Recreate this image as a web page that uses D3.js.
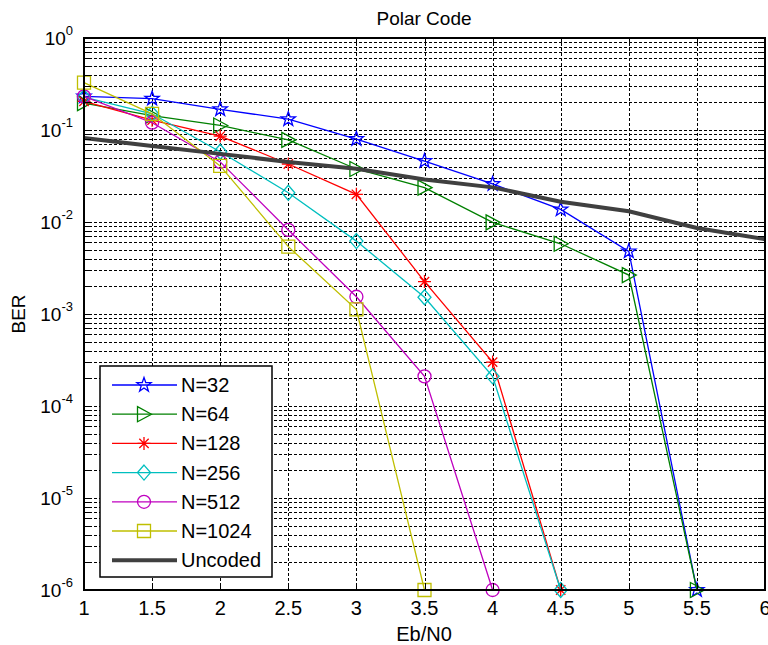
<!DOCTYPE html>
<html>
<head>
<meta charset="utf-8">
<script src="https://cdn.jsdelivr.net/npm/d3@7"></script>
<style>
  body { margin: 0; background: #fff; }
  svg { font-family: "Liberation Sans", Arial, sans-serif; }
</style>
</head>
<body>
<svg id="chart" width="768" height="645"></svg>
<script>
// values
const ebn0 = [1, 1.5, 2, 2.5, 3, 3.5, 4, 4.5, 5, 5.5];
const ber32   = [0.232, 0.219, 0.168, 0.131, 0.0798, 0.046, 0.0259, 0.0137, 0.0048, 1e-6];
const ber64   = [0.196, 0.143, 0.112, 0.078, 0.0377, 0.0236, 0.0099, 0.0058, 0.00265, 1e-6];
const ber128  = [0.205, 0.128, 0.086, 0.0427, 0.020, 0.00225, 0.0003, 1e-6];
const ber256  = [0.228, 0.150, 0.058, 0.0208, 0.0062, 0.00152, 0.00021, 1e-6];
const ber512  = [0.232, 0.120, 0.045, 0.0082, 0.00154, 0.00021, 1e-6];
const ber1024 = [0.327, 0.150, 0.0407, 0.0054, 0.00112, 1e-6];
const ebn0Uncoded = [1, 1.5, 2, 2.5, 3, 3.5, 4, 4.5, 5, 5.5, 6];
const berUncoded  = [0.082, 0.067, 0.055, 0.045, 0.038, 0.029, 0.0238, 0.0166, 0.0131, 0.0086, 0.0065];

const xTicks = [1, 1.5, 2, 2.5, 3, 3.5, 4, 4.5, 5, 5.5, 6];
const yExps = [0, -1, -2, -3, -4, -5, -6];

const series = [
  {name: 'N=32',   y: ber32,   color: '#0000ff', marker: 'star'},
  {name: 'N=64',   y: ber64,   color: '#008000', marker: 'triright'},
  {name: 'N=128',  y: ber128,  color: '#ff0000', marker: 'asterisk'},
  {name: 'N=256',  y: ber256,  color: '#00bfbf', marker: 'diamond'},
  {name: 'N=512',  y: ber512,  color: '#bf00bf', marker: 'circle'},
  {name: 'N=1024', y: ber1024, color: '#bfbf00', marker: 'square'}
];

const box = {left: 84, top: 38, right: 765, bottom: 590};

const svg = d3.select('#chart');

const x = d3.scaleLinear().domain([1, 6]).range([box.left, box.right]);
const y = d3.scaleLog().domain([1e-6, 1]).range([box.bottom, box.top]);

// grid
const minorY = [];
for (let e = -6; e < 0; e++) {
  for (let k = 1; k < 10; k++) minorY.push(k * Math.pow(10, e));
}
minorY.push(1);

const grid = svg.append('g').attr('class', 'grid')
  .style('stroke', '#000').style('stroke-width', 1).style('stroke-dasharray', '3,2');
grid.selectAll('.gy').data(minorY).enter().append('line')
  .attr('x1', box.left).attr('x2', box.right)
  .attr('y1', d => Math.round(y(d)) + 0.5).attr('y2', d => Math.round(y(d)) + 0.5);
grid.selectAll('.gx').data(xTicks).enter().append('line')
  .attr('y1', box.top).attr('y2', box.bottom)
  .attr('x1', d => Math.round(x(d)) + 0.5).attr('x2', d => Math.round(x(d)) + 0.5);

// symbols
const markerPath = (type, s) => {
  const h = s / 2;
  if (type === 'square') return `M${-h},${-h}H${h}V${h}H${-h}Z`;
  if (type === 'diamond') return `M0,${-h - 1}L${h},0L0,${h + 1}L${-h},0Z`;
  if (type === 'circle') return `M${h},0A${h},${h} 0 1,1 ${-h},0A${h},${h} 0 1,1 ${h},0Z`;
  if (type === 'triright') return `M${h + 1},0L${-h},${-h - 1}L${-h},${h + 1}Z`;
  if (type === 'asterisk') {
    const d = h * 0.72;
    return `M0,${-h}V${h}M${-h},0H${h}M${-d},${-d}L${d},${d}M${-d},${d}L${d},${-d}`;
  }
  if (type === 'star') {
    let p = '';
    for (let i = 0; i < 10; i++) {
      const r = i % 2 === 0 ? h + 1 : (h + 1) * 0.4;
      const a = -Math.PI / 2 + i * Math.PI / 5;
      p += (i === 0 ? 'M' : 'L') + (r * Math.cos(a)).toFixed(2) + ',' + (r * Math.sin(a)).toFixed(2);
    }
    return p + 'Z';
  }
};

const plot = svg.append('g').attr('class', 'plot');
const line = d3.line().x(d => x(d[0])).y(d => y(d[1]));

series.forEach(s => {
  const pts = s.y.map((v, i) => [ebn0[i], v]);
  plot.append('path').datum(pts)
    .attr('d', line)
    .style('fill', 'none').style('stroke', s.color).style('stroke-width', 1.3);
  plot.selectAll(null).data(pts).enter().append('path')
    .attr('transform', d => `translate(${x(d[0])},${y(d[1])})`)
    .attr('d', markerPath(s.marker, 13))
    .style('fill', 'none').style('stroke', s.color).style('stroke-width', 1.3);
});

plot.append('path')
  .datum(berUncoded.map((v, i) => [ebn0Uncoded[i], v]))
  .attr('d', line)
  .style('fill', 'none').style('stroke', '#404040').style('stroke-width', 4);

// axes box
svg.append('rect')
  .attr('x', box.left).attr('y', box.top)
  .attr('width', box.right - box.left).attr('height', box.bottom - box.top)
  .style('fill', 'none').style('stroke', '#000').style('stroke-width', 2);

// ticks (inside, all four sides)
const tl = 7;
const ticks = svg.append('g').style('stroke', '#000').style('stroke-width', 1);
xTicks.forEach(t => {
  const px = Math.round(x(t)) + 0.5;
  ticks.append('line').attr('x1', px).attr('x2', px).attr('y1', box.bottom).attr('y2', box.bottom - tl);
  ticks.append('line').attr('x1', px).attr('x2', px).attr('y1', box.top).attr('y2', box.top + tl);
});
minorY.forEach(t => {
  const py = Math.round(y(t)) + 0.5;
  ticks.append('line').attr('y1', py).attr('y2', py).attr('x1', box.left).attr('x2', box.left + tl);
  ticks.append('line').attr('y1', py).attr('y2', py).attr('x1', box.right).attr('x2', box.right - tl);
});

// tick labels
svg.append('g').selectAll('text').data(xTicks).enter().append('text')
  .attr('x', d => x(d)).attr('y', 615)
  .attr('text-anchor', 'middle')
  .style('font-size', '20px')
  .text(d => d);

const yl = svg.append('g').selectAll('text').data(yExps).enter().append('text')
  .attr('x', 73).attr('y', d => y(Math.pow(10, d)) + 7)
  .attr('text-anchor', 'end')
  .style('font-size', '19px');
yl.append('tspan').text('10');
yl.append('tspan').attr('dy', -10).style('font-size', '13px').text(d => d);

// titles
svg.append('text').attr('x', 424).attr('y', 25).attr('text-anchor', 'middle')
  .style('font-size', '19px').text('Polar Code');
svg.append('text').attr('x', 424).attr('y', 641).attr('text-anchor', 'middle')
  .style('font-size', '20px').text('Eb/N0');
svg.append('text').attr('transform', 'translate(25,314) rotate(-90)').attr('text-anchor', 'middle')
  .style('font-size', '19px').text('BER');

// legend
const leg = svg.append('g');
leg.append('rect').attr('x', 100).attr('y', 366).attr('width', 172).attr('height', 211)
  .style('fill', '#fff').style('stroke', '#000').style('stroke-width', 1.5);
const legItems = series.concat([{name: 'Uncoded', color: '#404040', marker: null}]);
legItems.forEach((s, i) => {
  const ly = 385 + i * 29.2;
  leg.append('line').attr('x1', 112).attr('x2', 177).attr('y1', ly).attr('y2', ly)
    .style('stroke', s.color).style('stroke-width', s.marker ? 1.3 : 4);
  if (s.marker) {
    leg.append('path').attr('transform', `translate(144,${ly})`)
      .attr('d', markerPath(s.marker, 13))
      .style('fill', 'none').style('stroke', s.color).style('stroke-width', 1.3);
  }
  leg.append('text').attr('x', 181).attr('y', ly + 7).style('font-size', '20px').text(s.name);
});
</script>
</body>
</html>
